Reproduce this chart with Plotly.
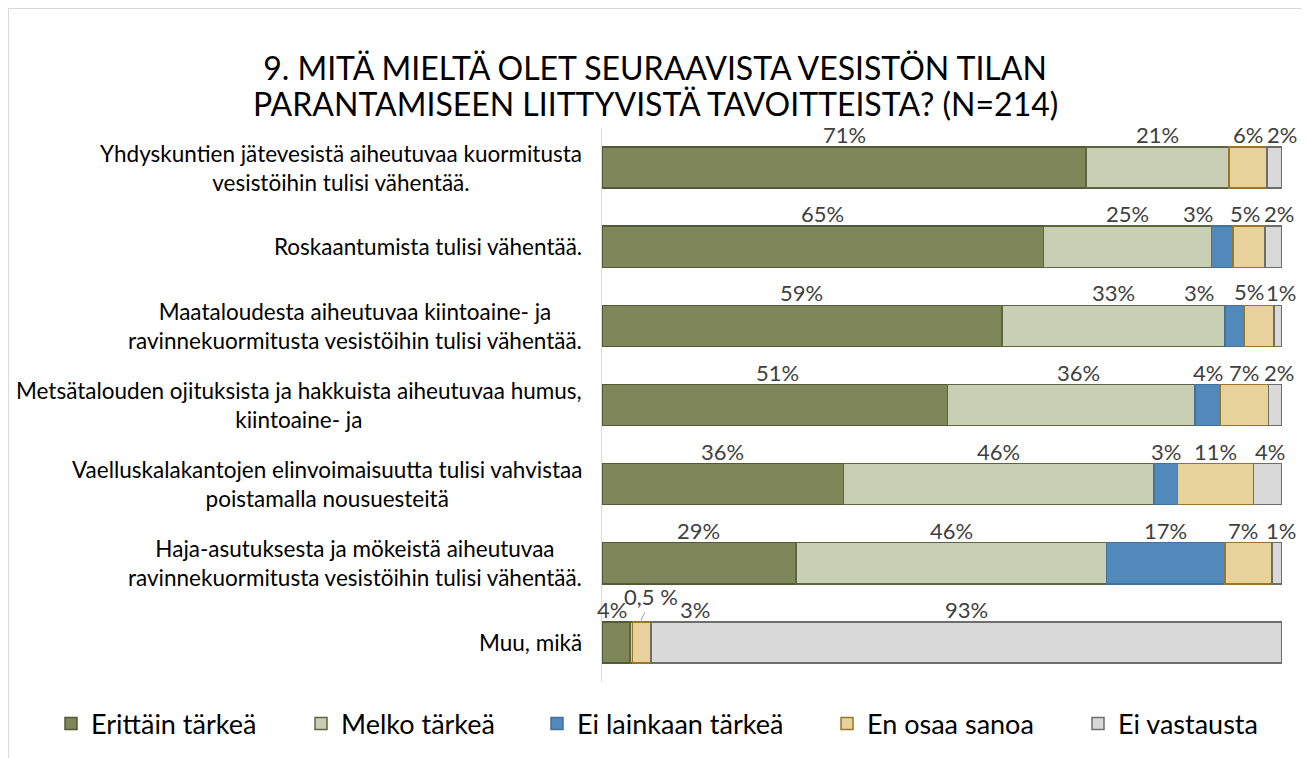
import plotly.graph_objects as go

# ---------------- data ----------------
categories = [
    "Yhdyskuntien jätevesistä aiheutuvaa kuormitusta<br>vesistöihin tulisi vähentää.",
    "Roskaantumista tulisi vähentää.",
    "Maataloudesta aiheutuvaa kiintoaine- ja<br>ravinnekuormitusta vesistöihin tulisi vähentää.",
    "Metsätalouden ojituksista ja hakkuista aiheutuvaa humus,<br>kiintoaine- ja",
    "Vaelluskalakantojen elinvoimaisuutta tulisi vahvistaa<br>poistamalla nousuesteitä",
    "Haja-asutuksesta ja mökeistä aiheutuvaa<br>ravinnekuormitusta vesistöihin tulisi vähentää.",
    "Muu, mikä",
]
series_names = ["Erittäin tärkeä", "Melko tärkeä", "Ei lainkaan tärkeä", "En osaa sanoa", "Ei vastausta"]

erittain = [71.2, 64.9, 58.8, 50.8, 35.5, 28.5, 4.1]
melko = [21.0, 24.7, 32.8, 36.4, 45.7, 45.7, 0.4]
ei_lainkaan = [0.0, 3.2, 2.8, 3.7, 3.4, 17.4, 0.0]
en_osaa = [5.6, 4.7, 4.4, 7.1, 11.2, 6.9, 2.7]
ei_vastausta = [2.2, 2.5, 1.2, 2.0, 4.2, 1.5, 92.8]

erittain_labels = ["71%", "65%", "59%", "51%", "36%", "29%", "4%"]
melko_labels = ["21%", "25%", "33%", "36%", "46%", "46%", "0,5 %"]
ei_lainkaan_labels = [None, "3%", "3%", "4%", "3%", "17%", None]
en_osaa_labels = ["6%", "5%", "5%", "7%", "11%", "7%", "3%"]
ei_vastausta_labels = ["2%", "2%", "1%", "2%", "4%", "1%", "93%"]

title_line1 = "9. MITÄ MIELTÄ OLET SEURAAVISTA VESISTÖN TILAN"
title_line2 = "PARANTAMISEEN LIITTYVISTÄ TAVOITTEISTA? (N=214)"

# ---------------- styles / geometry ----------------
FONT = "Lato"
fills = ["#7f865a", "#c9cfb4", "#5289bb", "#e8d29c", "#d9d9d9"]
borders = ["#505a34", "#5d6440", "#41719c", "#9a7528", "#6d6d6d"]

W, H = 1309, 758
ML, MR, MT, MB = 594, 35, 120, 84
PW = W - ML - MR
PH = H - MT - MB


def px_to_paper_x(px):
    return (px - ML) / PW


def px_to_paper_y(py):
    return (H - MB - py) / PH


all_values = [erittain, melko, ei_lainkaan, en_osaa, ei_vastausta]
all_labels = [erittain_labels, melko_labels, ei_lainkaan_labels, en_osaa_labels, ei_vastausta_labels]
legend_ids = ["legend", "legend2", "legend3", "legend4", "legend5"]

fig = go.Figure()
for name, vals, fc, bc, lid in zip(series_names, all_values, fills, borders, legend_ids):
    fig.add_trace(go.Bar(
        y=categories, x=vals, name=name, orientation="h",
        marker=dict(color=fc, line=dict(color=bc, width=1.5)),
        hoverinfo="x+name", legend=lid,
    ))

# label nudges in pixels (series index, row index) -> dx
nudges = {
    (4, 0): 7,
    (2, 1): -24, (3, 1): -4, (4, 1): 5,
    (2, 2): -35, (4, 2): 3,
    (0, 3): 3, (1, 3): 7, (4, 3): 4,
    (4, 4): 2,
    (3, 5): -5, (4, 5): 4,
    (0, 6): -4, (3, 6): 53,
}
LABEL_FONT = dict(family=FONT, size=22, color="#404040")
HALF_BAR = 20.5

annotations = []
cum = [0.0] * len(categories)
for si, (vals, labs) in enumerate(zip(all_values, all_labels)):
    for ri, (v, lab) in enumerate(zip(vals, labs)):
        mid = cum[ri] + v / 2
        if lab is not None:
            if (si, ri) == (3, 2):
                # leader line to the neighbouring segment
                tip_x = cum[ri] - ei_lainkaan[ri] / 2
                annotations.append(dict(
                    x=tip_x, y=categories[ri], xref="x", yref="y", text=lab,
                    showarrow=True, arrowhead=0, arrowwidth=1, arrowcolor="#a6a6a6",
                    ax=15, ay=-14, yshift=HALF_BAR, standoff=0, font=LABEL_FONT,
                ))
            elif (si, ri) == (1, 6):
                tip_x = mid + en_osaa[ri] / 2
                annotations.append(dict(
                    x=tip_x, y=categories[ri], xref="x", yref="y", text=lab,
                    showarrow=True, arrowhead=0, arrowwidth=1, arrowcolor="#a6a6a6",
                    ax=11, ay=-25, yshift=HALF_BAR, standoff=0, font=LABEL_FONT,
                ))
            else:
                annotations.append(dict(
                    x=mid, y=categories[ri], xref="x", yref="y", text=lab,
                    showarrow=False, xshift=nudges.get((si, ri), 0), yshift=33,
                    font=LABEL_FONT,
                ))
        cum[ri] += v

# category labels (centered multi-line blocks, right-anchored)
for c in categories:
    annotations.append(dict(
        x=px_to_paper_x(576), y=c, xref="paper", yref="y", text=c, xanchor="right",
        align="center", showarrow=False,
        font=dict(family=FONT, size=22.5, color="#000000"),
    ))

# second title line
annotations.append(dict(
    x=px_to_paper_x(647), y=px_to_paper_y(95), xref="paper", yref="paper",
    text=title_line2, showarrow=False, xanchor="center", yanchor="middle",
    font=dict(family=FONT, size=32, color="#000000"),
))

legend_text_starts = [84, 334, 570, 860, 1111]
legend_common = dict(orientation="h", xanchor="left", yanchor="middle",
                     xref="container", yref="container", y=1 - 716 / H,
                     bgcolor="rgba(0,0,0,0)",
                     font=dict(family=FONT, size=27, color="#000000"),
                     itemwidth=30)
legend_layouts = {}
for lid, ts in zip(legend_ids, legend_text_starts):
    legend_layouts[lid] = dict(legend_common, x=(ts - 41) / W)

fig.update_layout(
    width=W, height=H,
    margin=dict(l=ML, r=MR, t=MT, b=MB, autoexpand=False),
    paper_bgcolor="white", plot_bgcolor="white",
    barmode="stack", bargap=0.48,
    title=dict(text=title_line1, x=647 / W, xref="container", xanchor="center",
               y=1 - 61 / H, yref="container", yanchor="middle",
               font=dict(family=FONT, size=32, color="#000000")),
    xaxis=dict(range=[0, 100], showgrid=False, showticklabels=False, zeroline=False,
               showline=False, fixedrange=True),
    yaxis=dict(range=[len(categories) - 0.5, -0.5], autorange=False,
               showticklabels=False, showgrid=False,
               showline=True, linecolor="#d9d9d9", linewidth=1, ticks=""),
    annotations=annotations,
    shapes=[dict(type="rect", xref="paper", yref="paper",
                 x0=px_to_paper_x(0.5), x1=px_to_paper_x(1297),
                 y0=px_to_paper_y(800), y1=px_to_paper_y(0.5),
                 line=dict(color="#d9d9d9", width=1), layer="below")],
    showlegend=True,
    **legend_layouts,
)

fig.write_html("out.html")
